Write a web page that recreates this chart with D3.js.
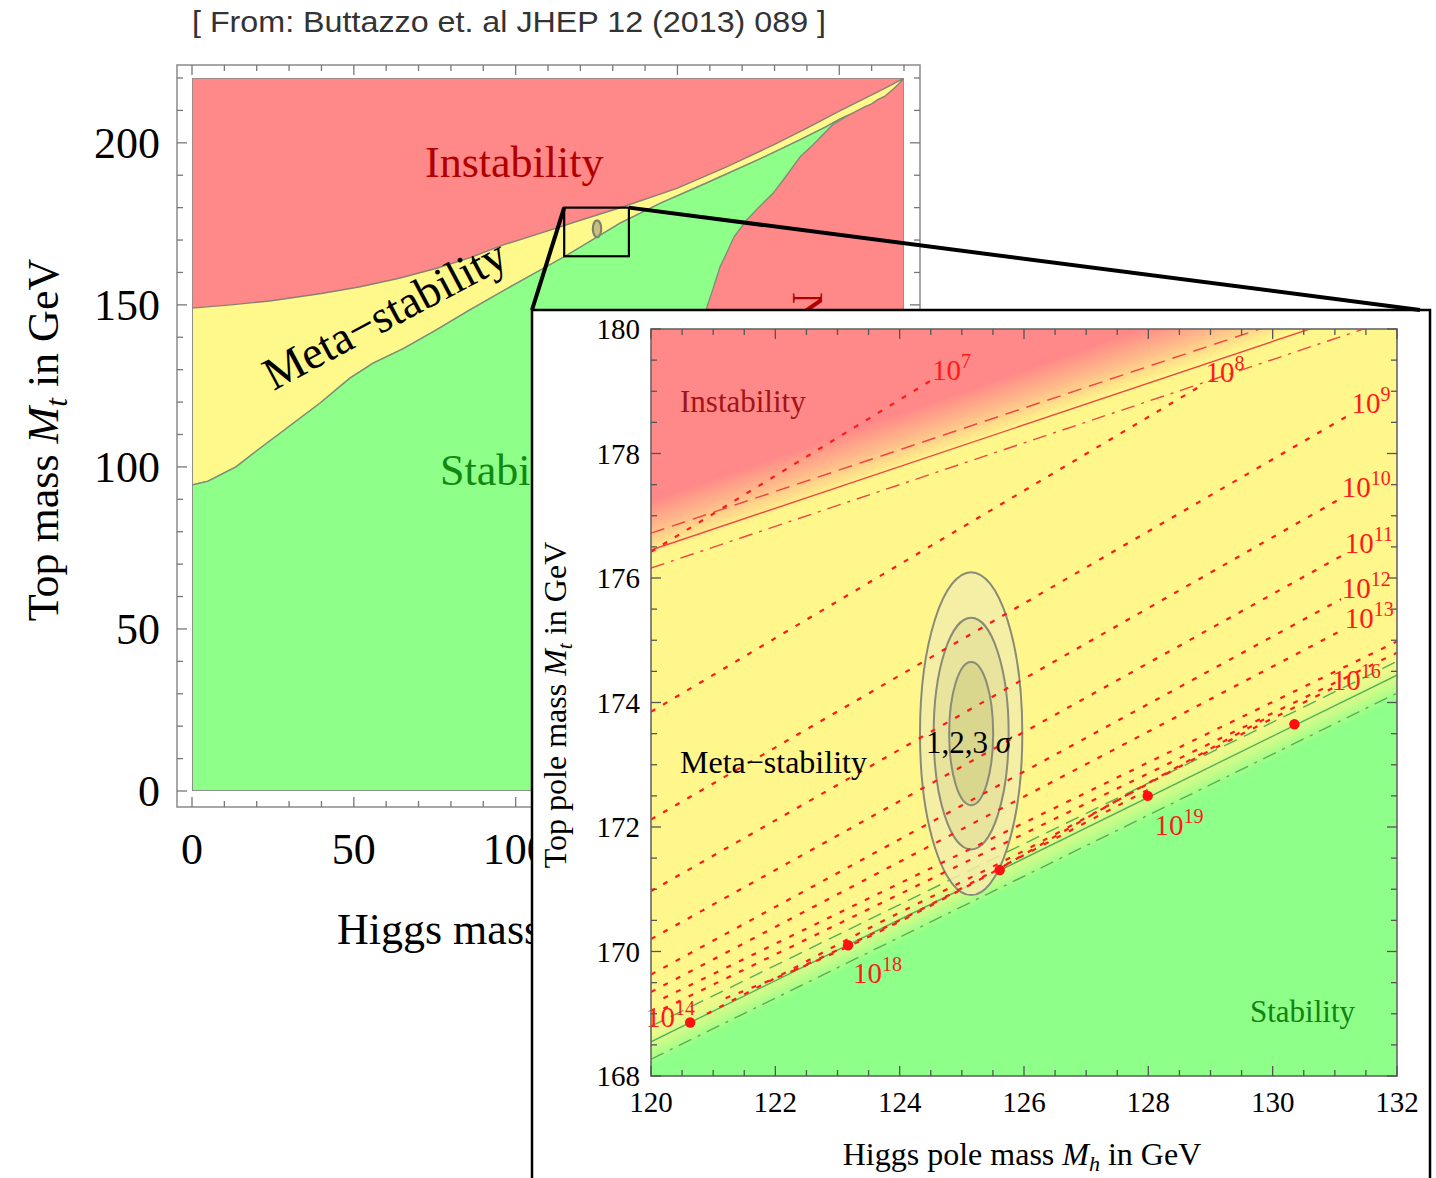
<!DOCTYPE html>
<html><head><meta charset="utf-8">
<script src="https://cdn.jsdelivr.net/npm/d3@7/dist/d3.min.js"></script>
<style>html,body{margin:0;padding:0;background:#fff;}svg{display:block;}</style>
</head><body>
<svg id="chart" width="1436" height="1178"></svg>
<script>
// ================= DATA =================
const citationText = "[ From: Buttazzo et. al  JHEP 12 (2013) 089 ]";

// ---- overview plot (Higgs mass Mh, top mass Mt, GeV) ----
const overviewTickLabels = [0, 50, 100, 150, 200];
const instabilityEdge = [[0,149],[12,150],[24,151.2],[40,153.5],[52,155.6],[64,158.2],[75.6,161.3],[86,164.6],[96.2,168.5],[108,172.2],[120,176.1],[133,180.2],[150,186],[165,192.5],[180,199.5],[190,204.5],[200,209.8],[210.5,215],[216,217.8],[220,220]];
const metaLowerEdge = [[0,94.4],[5,95.6],[13.6,100],[20,105],[27.2,110.4],[39.6,119.7],[48.8,127.4],[56,132],[65.3,136.5],[75,142],[86,148.5],[100,156.5],[115.3,165],[132.3,175.2],[145,181.5],[159,187.6],[175,194.8],[188,201],[196,205],[200,207.2],[203,208.6]];
const metaTailLowerEdge = [[203,208.6],[205,209.6],[208,211.2],[210,212],[212,213.4],[214,214.3],[216.7,216.6],[218.5,218.3],[220,220]];
const perturbativityEdge = [[203,208.6],[198,205.6],[192,199.5],[188,195.8],[184,190.3],[179.6,184.5],[175,180],[171.4,176.2],[167.5,171],[165.2,166],[163.2,161.8],[161,155],[159,149],[156,140],[152,110],[148,60],[145,0]];
const zoomWindow = [[115, 165], [135, 180]];

// ---- zoomed inset ----
const insetXTicks = [120, 122, 124, 126, 128, 130, 132];
const insetYTicks = [168, 170, 172, 174, 176, 178, 180];
const redBandCenter = [[120, 176.8], [132, 181.0]];
const greenBandCenter = [[120, 168.62], [132, 174.5]];
const redSolid = [[120, 176.45], [132, 180.47]];
const redDashed = [[120, 176.72], [132, 180.74]];
const redDashDot = [[120, 176.16], [132, 180.18]];
const greenSolid = [[120, 168.55], [132, 174.44]];
const greenDashed = [[120, 168.80], [132, 174.66]];
const greenDashDot = [[120, 168.27], [132, 174.15]];

const scaleContours = [
  [[120.0,176.42],[124.5,179.17]],
  [[120.0,173.85],[128.9,179.12]],
  [[120.0,172.12],[131.25,178.63]],
  [[120.0,170.97],[131.1,177.28]],
  [[120.0,170.2],[131.15,176.38]],
  [[120.0,169.63],[131.1,175.66]],
  [[120.0,169.35],[131.15,175.18]],
  [[120.2,169.25],[132,174.98]],
  [[120.2,169.08],[132,174.8]],
  [[120.9,169.0],[121.86,169.5],[123.4,170.32],[126,171.62],[128.94,173.2],[131.0,174.25]],
  [[121.2,169.25],[123,170.0],[125,171.0],[127.54,172.45],[129.9,173.75]],
  [[122.3,169.7],[124,170.5],[126,171.55],[128,172.6]]
];
const contourLabelText = ["7","8","9","10","11","12","13","16","19","18","14"];
const contourLabelPos = [[124.52,179.18],[128.92,179.15],[131.27,178.65],[131.11,177.3],[131.16,176.4],[131.11,175.68],[131.16,175.2],[130.95,174.2],[128.1,171.87],[123.25,169.49],[119.92,168.79]];

const dotPoints = [[120.63,168.86],[123.17,170.10],[125.61,171.31],[127.99,172.50],[130.35,173.65]];

const ellipseCenter = [125.15, 173.5];
const sigmaLevels = [3, 2, 1];
const semiAxisMh = [0.823, 0.603, 0.354];
const semiAxisMt = [2.594, 1.86, 1.149];

// ================= DRAWING =================
const svg = d3.select("#chart");
const defs = svg.append("defs");
const SERIF = "'Liberation Serif','Times New Roman',serif";
const box = {x0: 532, y0: 310, x1: 1430, y1: 1200};

// region outside the inset box (the inset covers part of the overview)
defs.append("clipPath").attr("id", "outsideInset").append("path")
  .attr("clip-rule", "evenodd")
  .attr("d", `M0,0H1436V1178H0Z M${box.x0},${box.y0}H${box.x1}V${box.y1}H${box.x0}Z`);

// ---------- citation ----------
svg.append("text").attr("x", 192).attr("y", 32)
  .attr("font-family", "'Liberation Sans',Arial,sans-serif").attr("font-size", 29)
  .attr("textLength", 634).attr("lengthAdjust", "spacingAndGlyphs")
  .attr("fill", "#333").text(citationText);

// ---------- overview plot ----------
const bx = d3.scaleLinear().domain([0, 220]).range([192, 904]);
const by = d3.scaleLinear().domain([0, 220]).range([791, 78]);
const frame = {x0: 177, y0: 65, x1: 920, y1: 807};

defs.append("clipPath").attr("id", "bigClip").append("rect")
  .attr("x", bx(0)).attr("y", by(220)).attr("width", bx(220) - bx(0)).attr("height", by(0) - by(220));

const big = svg.append("g").attr("clip-path", "url(#outsideInset)");
const bigPlot = big.append("g").attr("clip-path", "url(#bigClip)");
const line = d3.line().x(d => bx(d[0])).y(d => by(d[1]));

bigPlot.append("rect").attr("x", bx(0)).attr("y", by(220))
  .attr("width", bx(220) - bx(0)).attr("height", by(0) - by(220)).attr("fill", "#ff8888");

const yellowPoly = instabilityEdge.concat(metaTailLowerEdge.slice().reverse(), metaLowerEdge.slice().reverse());
bigPlot.append("path").attr("d", line(yellowPoly) + "Z")
  .attr("fill", "#fff88b").attr("stroke", "#8c7f74").attr("stroke-width", 1.4);

const greenPoly = [[0, 0]].concat(metaLowerEdge, perturbativityEdge);
bigPlot.append("path").attr("d", line(greenPoly) + "Z")
  .attr("fill", "#8eff88").attr("stroke", "#7f8f78").attr("stroke-width", 1.4);

bigPlot.append("rect").attr("x", bx(0)).attr("y", by(220))
  .attr("width", bx(220) - bx(0)).attr("height", by(0) - by(220))
  .attr("fill", "none").attr("stroke", "#888").attr("stroke-width", 1.5);

// tiny sigma ellipse in the overview
bigPlot.append("ellipse").attr("cx", bx(ellipseCenter[0])).attr("cy", by(ellipseCenter[1]))
  .attr("rx", Math.abs(bx(semiAxisMh[0]) - bx(0)) + 1.5).attr("ry", Math.abs(by(semiAxisMt[0]) - by(0)))
  .attr("fill", "#c8c080").attr("stroke", "#808070").attr("stroke-width", 2.2);

// frame + ticks
big.append("rect").attr("x", frame.x0).attr("y", frame.y0)
  .attr("width", frame.x1 - frame.x0).attr("height", frame.y1 - frame.y0)
  .attr("fill", "none").attr("stroke", "#8a8a8a").attr("stroke-width", 1.5);
const bigTicks = d3.range(0, 221, 10);
bigTicks.forEach(v => {
  const L = (v % 50 === 0) ? 10 : 6;
  big.append("line").attr("x1", bx(v)).attr("x2", bx(v)).attr("y1", frame.y1).attr("y2", frame.y1 - L).attr("stroke", "#777").attr("stroke-width", 1.3);
  big.append("line").attr("x1", bx(v)).attr("x2", bx(v)).attr("y1", frame.y0).attr("y2", frame.y0 + L).attr("stroke", "#777").attr("stroke-width", 1.3);
  big.append("line").attr("y1", by(v)).attr("y2", by(v)).attr("x1", frame.x0).attr("x2", frame.x0 + L).attr("stroke", "#777").attr("stroke-width", 1.3);
  big.append("line").attr("y1", by(v)).attr("y2", by(v)).attr("x1", frame.x1).attr("x2", frame.x1 - L).attr("stroke", "#777").attr("stroke-width", 1.3);
});
overviewTickLabels.forEach(v => {
  big.append("text").attr("x", 160).attr("y", by(v) + 15).attr("text-anchor", "end")
    .attr("font-family", SERIF).attr("font-size", 44).text(v);
  big.append("text").attr("x", bx(v)).attr("y", 864).attr("text-anchor", "middle")
    .attr("font-family", SERIF).attr("font-size", 44).text(v);
});

// overview labels
big.append("text").attr("x", 425).attr("y", 177).attr("font-family", SERIF).attr("font-size", 44)
  .attr("fill", "#b00000").text("Instability");
big.append("text").attr("transform", "translate(392,328) rotate(-28)").attr("text-anchor", "middle")
  .attr("font-family", SERIF).attr("font-size", 46).attr("fill", "#000").text("Meta\u2212stability");
big.append("text").attr("x", 440).attr("y", 485).attr("font-family", SERIF).attr("font-size", 44)
  .attr("fill", "#118811").text("Stability");
big.append("text").attr("transform", "translate(793,292) rotate(90)")
  .attr("font-family", SERIF).attr("font-size", 44).attr("fill", "#b00000").text("Non\u2212perturbativity");

// axis titles
const yt = big.append("text").attr("transform", "translate(58,440) rotate(-90)").attr("text-anchor", "middle")
  .attr("font-family", SERIF).attr("font-size", 44);
yt.append("tspan").text("Top mass ");
yt.append("tspan").attr("font-style", "italic").text("M");
yt.append("tspan").attr("font-style", "italic").attr("font-size", 31).attr("dy", 9).text("t");
yt.append("tspan").attr("dy", -9).text(" in GeV");
const xt = big.append("text").attr("x", 337).attr("y", 944).attr("font-family", SERIF).attr("font-size", 44);
xt.append("tspan").text("Higgs mass ");
xt.append("tspan").attr("font-style", "italic").text("M");
xt.append("tspan").attr("font-style", "italic").attr("font-size", 31).attr("dy", 9).text("h");
xt.append("tspan").attr("dy", -9).text(" in GeV");

// zoom window rectangle
big.append("rect").attr("x", bx(zoomWindow[0][0])).attr("y", by(zoomWindow[1][1]))
  .attr("width", bx(zoomWindow[1][0]) - bx(zoomWindow[0][0]))
  .attr("height", by(zoomWindow[0][1]) - by(zoomWindow[1][1]))
  .attr("fill", "none").attr("stroke", "#000").attr("stroke-width", 2.2);

// ---------- inset ----------
svg.append("rect").attr("x", box.x0).attr("y", box.y0).attr("width", box.x1 - box.x0).attr("height", box.y1 - box.y0)
  .attr("fill", "#fff").attr("stroke", "#000").attr("stroke-width", 2.5);

const ix = d3.scaleLinear().domain([120, 132]).range([651, 1397]);
const iy = d3.scaleLinear().domain([168, 180]).range([1076, 329]);
const iline = d3.line().x(d => ix(d[0])).y(d => iy(d[1]));

defs.append("clipPath").attr("id", "insetClip").append("rect")
  .attr("x", ix(120)).attr("y", iy(180)).attr("width", ix(132) - ix(120)).attr("height", iy(168) - iy(180));

function bandGradient(id, center, halfWidthMt, stops) {
  const p0 = [ix(center[0][0]), iy(center[0][1])], p1 = [ix(center[1][0]), iy(center[1][1])];
  const dx = p1[0] - p0[0], dy = p1[1] - p0[1], len = Math.hypot(dx, dy);
  const nx = -dy / len, ny = dx / len;
  const nrm = ny < 0 ? [-nx, -ny] : [nx, ny];
  const hv = Math.abs(iy(0) - iy(halfWidthMt)) * (dx / len);
  const g = defs.append("linearGradient").attr("id", id).attr("gradientUnits", "userSpaceOnUse")
    .attr("x1", p0[0] - nrm[0] * hv).attr("y1", p0[1] - nrm[1] * hv)
    .attr("x2", p0[0] + nrm[0] * hv).attr("y2", p0[1] + nrm[1] * hv);
  stops.forEach(s => g.append("stop").attr("offset", s[0]).attr("stop-color", s[1]).attr("stop-opacity", s[2]));
}
bandGradient("redGrad", redBandCenter, 0.45, [[0, "#ff8888", 1], [0.5, "#ffbb8a", 1], [1, "#fff78b", 1]]);
bandGradient("greenGrad", greenBandCenter, 0.45, [[0, "#fff78b", 0], [0.45, "#d8fb8a", 0.6], [1, "#8eff88", 1]]);

const inset = svg.append("g");
const iplot = inset.append("g").attr("clip-path", "url(#insetClip)");
iplot.append("rect").attr("x", ix(120)).attr("y", iy(180)).attr("width", ix(132) - ix(120)).attr("height", iy(168) - iy(180))
  .attr("fill", "url(#redGrad)");
iplot.append("rect").attr("x", ix(120)).attr("y", iy(180)).attr("width", ix(132) - ix(120)).attr("height", iy(168) - iy(180))
  .attr("fill", "url(#greenGrad)");

// boundary lines
const lineStyles = [
  [redSolid, "#f04545", null], [redDashed, "#f04545", "14,8"], [redDashDot, "#f04545", "14,7,3,7"],
  [greenSolid, "#55b055", null], [greenDashed, "#55b055", "14,8"], [greenDashDot, "#55b055", "14,7,3,7"]
];
lineStyles.forEach(([pts, col, dash]) => {
  iplot.append("path").attr("d", iline(pts)).attr("fill", "none").attr("stroke", col)
    .attr("stroke-width", 1.4).attr("stroke-dasharray", dash);
});

// sigma ellipses
const ellFill = ["#f2eda8", "#e5e29c", "#d6d48c"];
sigmaLevels.forEach((s, i) => {
  iplot.append("ellipse").attr("cx", ix(ellipseCenter[0])).attr("cy", iy(ellipseCenter[1]))
    .attr("rx", ix(120 + semiAxisMh[i]) - ix(120)).attr("ry", iy(168) - iy(168 + semiAxisMt[i]))
    .attr("fill", ellFill[i]).attr("fill-opacity", 0.85).attr("stroke", "#8a8a78").attr("stroke-width", 2);
});

// instability-scale contours
scaleContours.forEach(pts => {
  iplot.append("path").attr("d", d3.line().curve(d3.curveMonotoneX).x(d => ix(d[0])).y(d => iy(d[1]))(pts))
    .attr("fill", "none").attr("stroke", "#ff1a1a").attr("stroke-width", 2.2).attr("stroke-dasharray", "5,9");
});

// dots
dotPoints.forEach(p => {
  iplot.append("circle").attr("cx", ix(p[0])).attr("cy", iy(p[1])).attr("r", 5.2).attr("fill", "#ff1010");
});

// contour labels
contourLabelText.forEach((t, i) => {
  const p = contourLabelPos[i];
  const tx = inset.append("text").attr("x", ix(p[0])).attr("y", iy(p[1]))
    .attr("font-family", SERIF).attr("font-size", 29).attr("fill", "#ff1a1a");
  tx.append("tspan").text("10");
  tx.append("tspan").attr("font-size", 20).attr("dy", -12).text(t);
});

// region labels
inset.append("text").attr("x", 680).attr("y", 412).attr("font-family", SERIF).attr("font-size", 31)
  .attr("fill", "#a01515").text("Instability");
inset.append("text").attr("x", 680).attr("y", 773).attr("font-family", SERIF).attr("font-size", 32)
  .attr("fill", "#000").text("Meta\u2212stability");
inset.append("text").attr("x", 1250).attr("y", 1022).attr("font-family", SERIF).attr("font-size", 31)
  .attr("fill", "#128212").text("Stability");
const sg = inset.append("text").attr("x", 926).attr("y", 753).attr("font-family", SERIF).attr("font-size", 31).attr("fill", "#000");
sg.append("tspan").text("1,2,3 ");
sg.append("tspan").attr("font-style", "italic").text("\u03C3");

// inset frame & ticks
inset.append("rect").attr("x", ix(120)).attr("y", iy(180)).attr("width", ix(132) - ix(120)).attr("height", iy(168) - iy(180))
  .attr("fill", "none").attr("stroke", "#666").attr("stroke-width", 1.6);
d3.range(120, 132.01, 0.5).forEach(v => {
  const L = (Math.abs(v % 2) < 1e-6) ? 10 : 6;
  inset.append("line").attr("x1", ix(v)).attr("x2", ix(v)).attr("y1", iy(168)).attr("y2", iy(168) - L).attr("stroke", "#555").attr("stroke-width", 1.3);
  inset.append("line").attr("x1", ix(v)).attr("x2", ix(v)).attr("y1", iy(180)).attr("y2", iy(180) + L).attr("stroke", "#555").attr("stroke-width", 1.3);
});
d3.range(168, 180.01, 0.5).forEach(v => {
  const L = (Math.abs(v % 2) < 1e-6) ? 10 : 6;
  inset.append("line").attr("y1", iy(v)).attr("y2", iy(v)).attr("x1", ix(120)).attr("x2", ix(120) + L).attr("stroke", "#555").attr("stroke-width", 1.3);
  inset.append("line").attr("y1", iy(v)).attr("y2", iy(v)).attr("x1", ix(132)).attr("x2", ix(132) - L).attr("stroke", "#555").attr("stroke-width", 1.3);
});
insetXTicks.forEach(v => {
  inset.append("text").attr("x", ix(v)).attr("y", 1112).attr("text-anchor", "middle")
    .attr("font-family", SERIF).attr("font-size", 29).text(v);
});
insetYTicks.forEach(v => {
  inset.append("text").attr("x", 640).attr("y", iy(v) + 10).attr("text-anchor", "end")
    .attr("font-family", SERIF).attr("font-size", 29).text(v);
});
const ixt = inset.append("text").attr("x", 1022).attr("y", 1165).attr("text-anchor", "middle")
  .attr("font-family", SERIF).attr("font-size", 32);
ixt.append("tspan").text("Higgs pole mass ");
ixt.append("tspan").attr("font-style", "italic").text("M");
ixt.append("tspan").attr("font-style", "italic").attr("font-size", 22).attr("dy", 6).text("h");
ixt.append("tspan").attr("dy", -6).text(" in GeV");
const iyt = inset.append("text").attr("transform", "translate(566,705) rotate(-90)").attr("text-anchor", "middle")
  .attr("font-family", SERIF).attr("font-size", 32);
iyt.append("tspan").text("Top pole mass ");
iyt.append("tspan").attr("font-style", "italic").text("M");
iyt.append("tspan").attr("font-style", "italic").attr("font-size", 22).attr("dy", 6).text("t");
iyt.append("tspan").attr("dy", -6).text(" in GeV");

// connector lines
svg.append("line").attr("x1", bx(zoomWindow[0][0])).attr("y1", by(zoomWindow[1][1])).attr("x2", box.x0).attr("y2", box.y0)
  .attr("stroke", "#000").attr("stroke-width", 4);
svg.append("line").attr("x1", bx(zoomWindow[1][0])).attr("y1", by(zoomWindow[1][1])).attr("x2", 1420).attr("y2", box.y0)
  .attr("stroke", "#000").attr("stroke-width", 4);
</script>
</body></html>
